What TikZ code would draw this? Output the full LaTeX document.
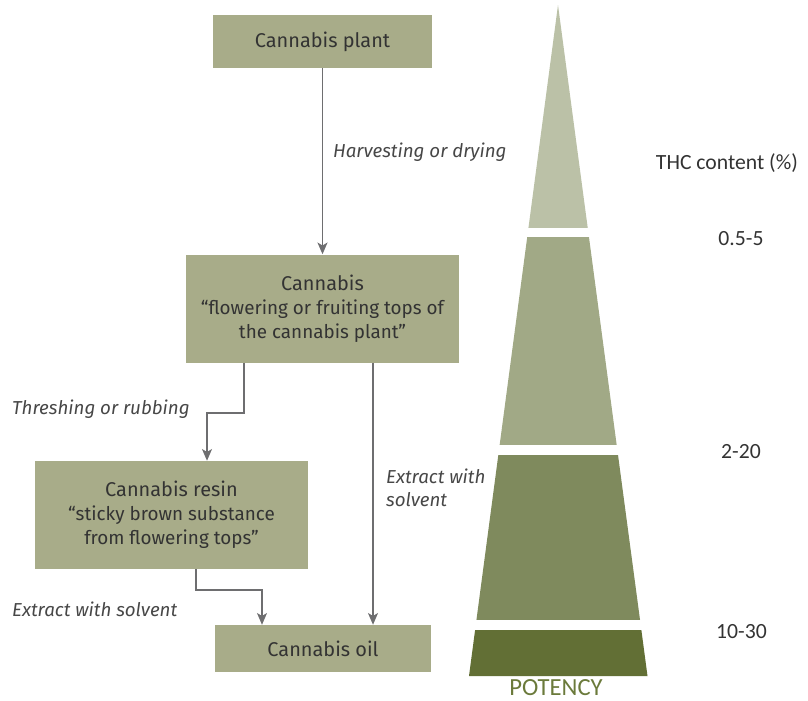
\documentclass[tikz,border=0pt]{standalone}
\usepackage{fontspec}
\setmainfont{Fira Sans}
\newfontfamily\numfont{Carlito}
\usetikzlibrary{arrows.meta}
\definecolor{boxgreen}{HTML}{A8AC89}
\definecolor{linegray}{HTML}{6E6E70}
\definecolor{txtgray}{HTML}{333333}
\definecolor{tierA}{HTML}{BBC1A7}
\definecolor{tierB}{HTML}{A1A986}
\definecolor{tierC}{HTML}{7F8A5D}
\definecolor{tierD}{HTML}{626F35}
\definecolor{potency}{HTML}{6B7A3B}

\begin{document}
\begin{tikzpicture}[x=.03cm,y=-.03cm,font=\fontsize{17}{20.5}\selectfont,text=txtgray]
\tikzset{box/.style={fill=boxgreen,align=center,inner sep=0pt},
 flow/.style={draw=linegray,line width=1.3pt,-{Stealth[length=10pt,width=8.5pt,inset=2.5pt]}},
 step label/.style={font=\fontsize{16}{20}\selectfont\itshape,text=txtgray!90,anchor=west,align=left},
 thc/.style={font=\numfont\fontsize{18.5}{20}\selectfont,text=txtgray}}
\newcommand\quotesize{\fontsize{16.1}{20.5}\selectfont}
\useasboundingbox (0,0) rectangle (808,701);
% process boxes
\node[box,minimum width=6.57cm,minimum height=1.59cm] (plant) at (322.5,41.5) {Cannabis plant};
\node[box,minimum width=8.19cm,minimum height=3.24cm] (herb) at (322.5,308.5)
 {Cannabis\\\quotesize``flowering or fruiting tops of\\\quotesize the cannabis plant''};
\node[box,minimum width=8.19cm,minimum height=3.24cm] (resin) at (171.5,515)
 {Cannabis resin\\\quotesize``sticky brown substance\\\quotesize from flowering tops''};
\node[box,minimum width=6.48cm,minimum height=1.41cm] (oil) at (323,648.5) {Cannabis oil};
% arrows
\draw[flow] (plant) -- (herb);
\draw[flow] ([xshift=-2.355cm]herb.south) -- ++(0,-1.5cm) -| ([xshift=1.065cm]resin.north);
\draw[flow] ([xshift=.735cm]resin.south) -- ++(0,-.63cm) -| ([xshift=-1.83cm]oil.north);
\draw[flow] ([xshift=1.515cm]herb.south) -- ([xshift=1.515cm]herb.south |- oil.north);
\node[step label] (harvest) at (329,152) {Harvesting or drying};
\node[step label] (thresh) at (8,409) {Threshing or rubbing};
\node[step label] (solvA) at (382,488) {Extract with\\solvent};
\node[step label] (solvB) at (8,609) {Extract with solvent};
% potency pyramid
\begin{scope}
 \clip (558,5) -- (647.5,676) -- (469,676) -- cycle;
 \foreach \ytop/\ybot/\col in {0/228/tierA,237/445/tierB,455/620/tierC,630/680/tierD}{
  \fill[\col] (460,\ytop) rectangle (660,\ybot);
 }
\end{scope}
\node[thc,anchor=east] (thchead) at (802,163) {THC content (\%)};
\node[thc] (lowthc) at (741,239) {0.5-5};
\node[thc] (midthc) at (741,452) {2-20};
\node[thc] (highthc) at (741.5,632) {10-30};
\node[font=\numfont\fontsize{21}{22}\selectfont,text=potency,inner sep=0pt] (pot) at (556,688) {POTENCY};
\end{tikzpicture}
\end{document}
